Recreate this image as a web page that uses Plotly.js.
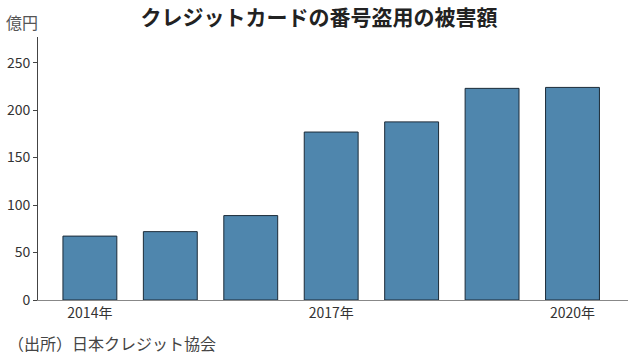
<!DOCTYPE html>
<html>
<head>
<meta charset="utf-8">
<script src="https://cdn.plot.ly/plotly-3.0.1.min.js"></script>
<style>html,body{margin:0;padding:0;background:#fff;}#chart{width:638px;height:357px;}</style>
</head>
<body>
<div id="chart"></div>
<script>
const years = ["2014", "2015", "2016", "2017", "2018", "2019", "2020"];
const damage = [67.3, 72.0, 88.9, 176.9, 187.6, 222.9, 223.9];
const tickYears = ["2014", "2017", "2020"];
const tickLabels = ["2014年", "2017年", "2020年"];
const yTicks = [0, 50, 100, 150, 200, 250];

const font = '"Noto Sans CJK JP", "Noto Sans", sans-serif';

Plotly.newPlot('chart', [{
  type: 'bar',
  x: years,
  y: damage,
  marker: {color: '#4f86ad', line: {color: '#1c2b38', width: 1}},
  hoverinfo: 'none'
}], {
  width: 638, height: 357,
  margin: {l: 38, r: 10, t: 37, b: 57},
  paper_bgcolor: '#fff', plot_bgcolor: '#fff',
  bargap: 0.33,
  showlegend: false,
  font: {family: font, size: 14, color: '#333'},
  title: {text: '<b>クレジットカードの番号盗用の被害額</b>', x: 0.5, xanchor: 'center', y: 0.95, yanchor: 'middle', font: {family: font, size: 21, color: '#222'}},
  xaxis: {
    type: 'category',
    range: [-0.645, 6.69],
    tickmode: 'array', tickvals: tickYears, ticktext: tickLabels,
    showline: true, linecolor: '#888', linewidth: 1,
    ticks: '', showgrid: false, zeroline: false,
    tickfont: {family: font, size: 14, color: '#333'}
  },
  yaxis: {
    range: [0, 277],
    tickmode: 'array', tickvals: yTicks,
    showline: true, linecolor: '#444', linewidth: 1,
    ticks: 'outside', ticklen: 4, tickcolor: '#444',
    showgrid: false, zeroline: false,
    tickfont: {family: font, size: 14, color: '#333'}
  },
  annotations: [
    {text: '億円', xref: 'paper', yref: 'paper', x: -0.057, y: 1.0, xanchor: 'left', yanchor: 'bottom', yshift: 1, showarrow: false, font: {family: font, size: 16, color: '#555'}},
    {text: '（出所）日本クレジット協会', xref: 'paper', yref: 'paper', x: -0.054, y: 0, xanchor: 'left', yanchor: 'top', yshift: -29, showarrow: false, font: {family: font, size: 16, color: '#444'}}
  ]
}, {displayModeBar: false, staticPlot: true});
</script>
</body>
</html>
